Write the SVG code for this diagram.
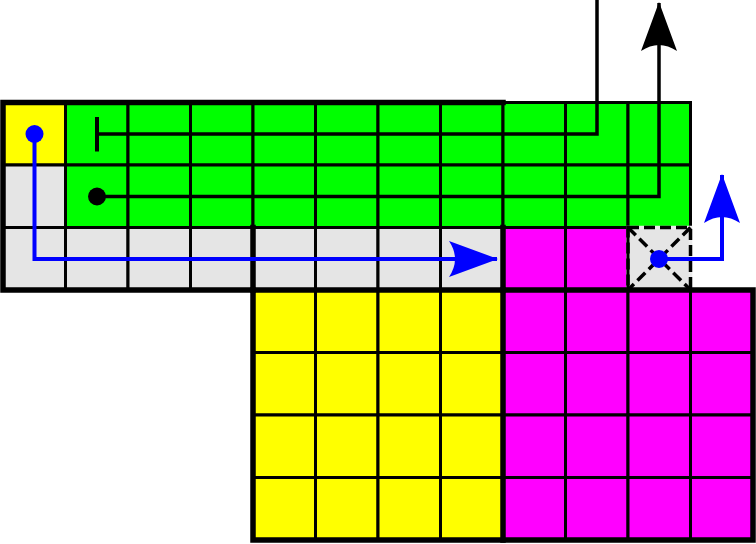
<svg xmlns="http://www.w3.org/2000/svg" width="756" height="544" viewBox="0 0 756 544">
<defs>
<style>
.c{stroke:#000;stroke-width:3}
.y{fill:#ffff00}
.g{fill:#00ff00}
.m{fill:#ff00ff}
.e{fill:#e5e5e5}
.thick{stroke:#000;stroke-width:5.5;fill:none;stroke-linecap:square}
.blk{stroke:#000;stroke-width:3.5;fill:none}
.blu{stroke:#0000ff;stroke-width:4;fill:none}
.dash{stroke:#000;stroke-width:3.5;stroke-dasharray:11 5;fill:none}
</style>
<marker id="ab" markerUnits="userSpaceOnUse" markerWidth="50" markerHeight="38" viewBox="0 0 50 38" refX="49" refY="19" orient="auto" overflow="visible">
<path d="M50,19 L1,1 Q13,19 1,37 Z" fill="#000"/>
</marker>
<marker id="au" markerUnits="userSpaceOnUse" markerWidth="50" markerHeight="38" viewBox="0 0 50 38" refX="49" refY="19" orient="auto" overflow="visible">
<path d="M50,19 L1,1 Q13,19 1,37 Z" fill="#0000ff"/>
</marker>
</defs>
<rect width="756" height="544" fill="#fff"/>

<g id="top-left">
<rect class="c y" x="3" y="102.5" width="62.5" height="62.5"/>
<rect class="c e" x="3" y="165" width="62.5" height="62.5"/>
<rect class="c e" x="3" y="227.5" width="62.5" height="62.5"/>
<rect class="c e" x="65.5" y="227.5" width="62.5" height="62.5"/>
<rect class="c e" x="128" y="227.5" width="62.5" height="62.5"/>
<rect class="c e" x="190.5" y="227.5" width="62.5" height="62.5"/>
<rect class="c e" x="253" y="227.5" width="62.5" height="62.5"/>
<rect class="c e" x="315.5" y="227.5" width="62.5" height="62.5"/>
<rect class="c e" x="378" y="227.5" width="62.5" height="62.5"/>
<rect class="c e" x="440.5" y="227.5" width="62.5" height="62.5"/>
</g>

<g id="green">
<rect class="c g" x="65.5" y="102.5" width="62.5" height="62.5"/>
<rect class="c g" x="128" y="102.5" width="62.5" height="62.5"/>
<rect class="c g" x="190.5" y="102.5" width="62.5" height="62.5"/>
<rect class="c g" x="253" y="102.5" width="62.5" height="62.5"/>
<rect class="c g" x="315.5" y="102.5" width="62.5" height="62.5"/>
<rect class="c g" x="378" y="102.5" width="62.5" height="62.5"/>
<rect class="c g" x="440.5" y="102.5" width="62.5" height="62.5"/>
<rect class="c g" x="503" y="102.5" width="62.5" height="62.5"/>
<rect class="c g" x="565.5" y="102.5" width="62.5" height="62.5"/>
<rect class="c g" x="628" y="102.5" width="62.5" height="62.5"/>
<rect class="c g" x="65.5" y="165" width="62.5" height="62.5"/>
<rect class="c g" x="128" y="165" width="62.5" height="62.5"/>
<rect class="c g" x="190.5" y="165" width="62.5" height="62.5"/>
<rect class="c g" x="253" y="165" width="62.5" height="62.5"/>
<rect class="c g" x="315.5" y="165" width="62.5" height="62.5"/>
<rect class="c g" x="378" y="165" width="62.5" height="62.5"/>
<rect class="c g" x="440.5" y="165" width="62.5" height="62.5"/>
<rect class="c g" x="503" y="165" width="62.5" height="62.5"/>
<rect class="c g" x="565.5" y="165" width="62.5" height="62.5"/>
<rect class="c g" x="628" y="165" width="62.5" height="62.5"/>
</g>

<g id="magenta-top">
<rect class="c m" x="503" y="227.5" width="62.5" height="62.5"/>
<rect class="c m" x="565.5" y="227.5" width="62.5" height="62.5"/>
</g>

<g id="yellow-block">
<rect class="c y" x="253" y="290" width="62.5" height="62.5"/>
<rect class="c y" x="315.5" y="290" width="62.5" height="62.5"/>
<rect class="c y" x="378" y="290" width="62.5" height="62.5"/>
<rect class="c y" x="440.5" y="290" width="62.5" height="62.5"/>
<rect class="c y" x="253" y="352.5" width="62.5" height="62.5"/>
<rect class="c y" x="315.5" y="352.5" width="62.5" height="62.5"/>
<rect class="c y" x="378" y="352.5" width="62.5" height="62.5"/>
<rect class="c y" x="440.5" y="352.5" width="62.5" height="62.5"/>
<rect class="c y" x="253" y="415" width="62.5" height="62.5"/>
<rect class="c y" x="315.5" y="415" width="62.5" height="62.5"/>
<rect class="c y" x="378" y="415" width="62.5" height="62.5"/>
<rect class="c y" x="440.5" y="415" width="62.5" height="62.5"/>
<rect class="c y" x="253" y="477.5" width="62.5" height="62.5"/>
<rect class="c y" x="315.5" y="477.5" width="62.5" height="62.5"/>
<rect class="c y" x="378" y="477.5" width="62.5" height="62.5"/>
<rect class="c y" x="440.5" y="477.5" width="62.5" height="62.5"/>
</g>

<g id="magenta-block">
<rect class="c m" x="503" y="290" width="62.5" height="62.5"/>
<rect class="c m" x="565.5" y="290" width="62.5" height="62.5"/>
<rect class="c m" x="628" y="290" width="62.5" height="62.5"/>
<rect class="c m" x="690.5" y="290" width="62.5" height="62.5"/>
<rect class="c m" x="503" y="352.5" width="62.5" height="62.5"/>
<rect class="c m" x="565.5" y="352.5" width="62.5" height="62.5"/>
<rect class="c m" x="628" y="352.5" width="62.5" height="62.5"/>
<rect class="c m" x="690.5" y="352.5" width="62.5" height="62.5"/>
<rect class="c m" x="503" y="415" width="62.5" height="62.5"/>
<rect class="c m" x="565.5" y="415" width="62.5" height="62.5"/>
<rect class="c m" x="628" y="415" width="62.5" height="62.5"/>
<rect class="c m" x="690.5" y="415" width="62.5" height="62.5"/>
<rect class="c m" x="503" y="477.5" width="62.5" height="62.5"/>
<rect class="c m" x="565.5" y="477.5" width="62.5" height="62.5"/>
<rect class="c m" x="628" y="477.5" width="62.5" height="62.5"/>
<rect class="c m" x="690.5" y="477.5" width="62.5" height="62.5"/>
</g>

<g id="crossed-cell">
<rect x="628" y="227.5" width="62.5" height="62.5" fill="#e5e5e5" stroke="#ececec" stroke-width="3.5"/>
<rect class="dash" x="628" y="227.5" width="62.5" height="62.5"/>
<path class="dash" d="M628,227.5 L690.5,290 M690.5,227.5 L628,290"/>
<line x1="628" y1="226" x2="628" y2="290" stroke="#000" stroke-width="3"/>
</g>

<g id="outlines">
<path class="thick" d="M503,102.5 H3 V290 H253"/>
<path class="thick" d="M253,227.5 V290 M503,227.5 V290"/>
<rect class="thick" x="253" y="290" width="500" height="250"/>
<line class="thick" x1="503" y1="290" x2="503" y2="540"/>
</g>

<g id="connectors">
<path class="blk" d="M97,134 H597 V0"/>
<line x1="97" y1="117" x2="97" y2="151.5" stroke="#000" stroke-width="4"/>
<path class="blk" d="M97,196.5 H659 V3" marker-end="url(#ab)"/>
<circle cx="97" cy="196.5" r="9" fill="#000"/>
<path class="blu" d="M34.5,134 V259 H497" marker-end="url(#au)"/>
<circle cx="34.5" cy="134" r="9" fill="#0000ff"/>
<path class="blu" d="M659,259 H722 V175" marker-end="url(#au)"/>
<circle cx="659" cy="259" r="9" fill="#0000ff"/>
</g>
</svg>
